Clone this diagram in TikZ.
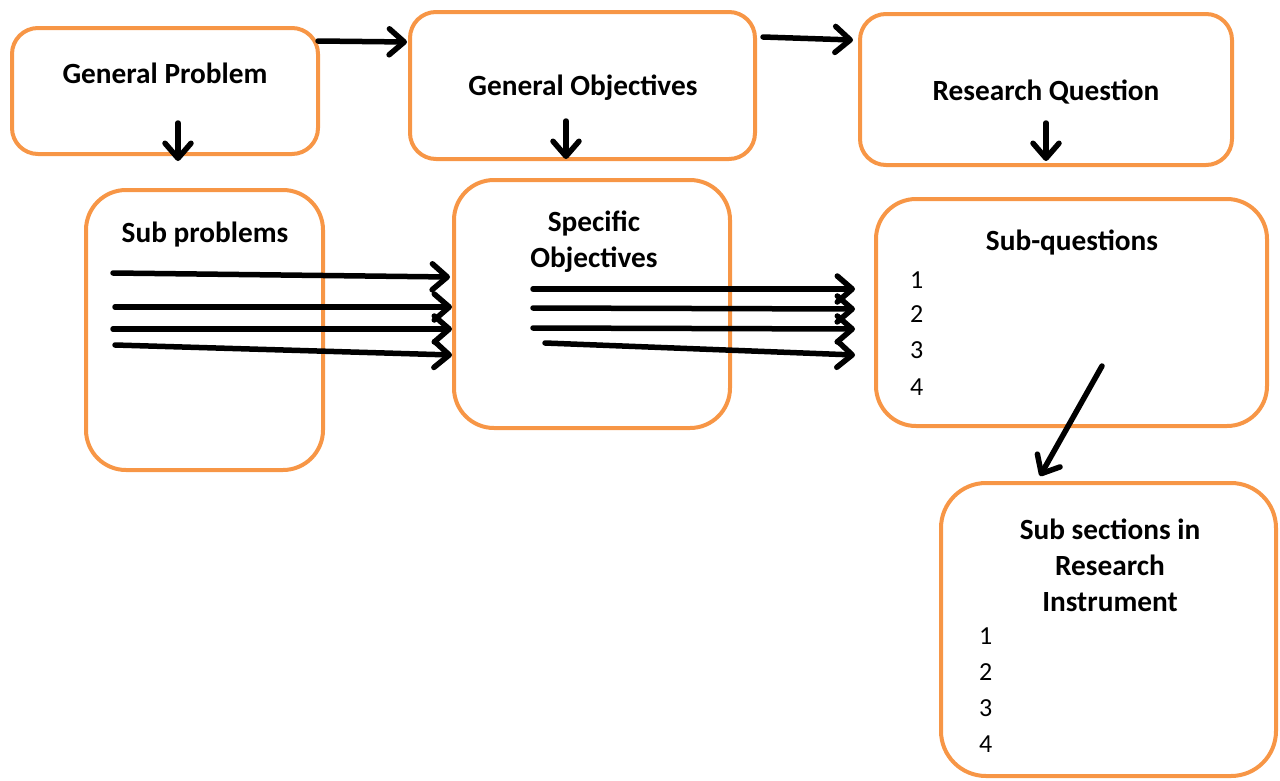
\documentclass[tikz,border=0pt]{standalone}
\usepackage{fontspec}
\setmainfont{Carlito}
\usetikzlibrary{arrows.meta}
\definecolor{boxorange}{HTML}{F79646}
\tikzset{
  box/.style={draw=boxorange, line width=4pt, rounded corners=#1, inner sep=0pt},
  box/.default=26pt,
  title/.style={font=\fontsize{29.3}{36}\selectfont\bfseries, align=center, inner sep=0pt},
  num/.style={font=\fontsize{26}{30}\selectfont, anchor=west, inner sep=0pt},
  link/.style={line width=5.5pt, line cap=round,
    -{Straight Barb[length=15pt, width=26pt, line width=5.5pt, round]}}
}
\begin{document}
\begin{tikzpicture}[x=1pt, y=-1pt]
\useasboundingbox (0,0) rectangle (1280,780);

% boxes
\draw[box] (12,28) rectangle (318,154);
\node[title] (gp) at (165,73) {General Problem};
\draw[box] (410,12) rectangle (755,159);
\node[title] (go) at (583,88) {General Objectives};
\draw[box] (860,14) rectangle (1232,165);
\node[title] (rq) at (1046,92) {Research Question};
\draw[box=40pt] (86,190) rectangle (323,470);
\node[title] (sp) at (205,235) {Sub problems};
\draw[box=40pt] (454,180) rectangle (730,428);
\node[title] (so) at (594,242) {Specific\\Objectives};
\draw[box=40pt] (876,199) rectangle (1267,426);
\node[title] (sq) at (1072,242) {Sub-questions};
\foreach \i/\y in {1/280,2/314,3/350,4/387}
  \node[num] (sq\i) at (910,\y) {\i};
\draw[box=45pt] (941,483) rectangle (1276,776);
\node[title] (ss) at (1110,565) {Sub sections in\\Research\\Instrument};
\foreach \i/\y in {1/636,2/672,3/708,4/744}
  \node[num] (ss\i) at (979,\y) {\i};

% arrow end points
\coordinate (a1s) at (318,41);   \coordinate (a1e) at (407,42);
\coordinate (a2s) at (763,37);   \coordinate (a2e) at (853,40);
\coordinate (d1s) at (178,123);  \coordinate (d1e) at (178,161);
\coordinate (d2s) at (566,121);  \coordinate (d2e) at (566,159);
\coordinate (d3s) at (1046,123); \coordinate (d3e) at (1046,161);
\coordinate (p1s) at (113,273);  \coordinate (p1e) at (450,277);
\coordinate (p2s) at (115,307);  \coordinate (p2e) at (452,307);
\coordinate (p3s) at (113,329);  \coordinate (p3e) at (452,329);
\coordinate (p4s) at (115,345);  \coordinate (p4e) at (452,355);
\coordinate (o1s) at (533,289);  \coordinate (o1e) at (855,289);
\coordinate (o2s) at (533,308);  \coordinate (o2e) at (855,309);
\coordinate (o3s) at (533,328);  \coordinate (o3e) at (855,329);
\coordinate (o4s) at (545,343);  \coordinate (o4e) at (855,355);
\coordinate (qs) at (1102,366);  \coordinate (qe) at (1040,476);

% connectors
\foreach \s/\e in {a1s/a1e, a2s/a2e, d1s/d1e, d2s/d2e, d3s/d3e,
                   p1s/p1e, p2s/p2e, p3s/p3e, p4s/p4e,
                   o1s/o1e, o2s/o2e, o3s/o3e, o4s/o4e, qs/qe}
  \draw[link] (\s) -- (\e);
\end{tikzpicture}
\end{document}
